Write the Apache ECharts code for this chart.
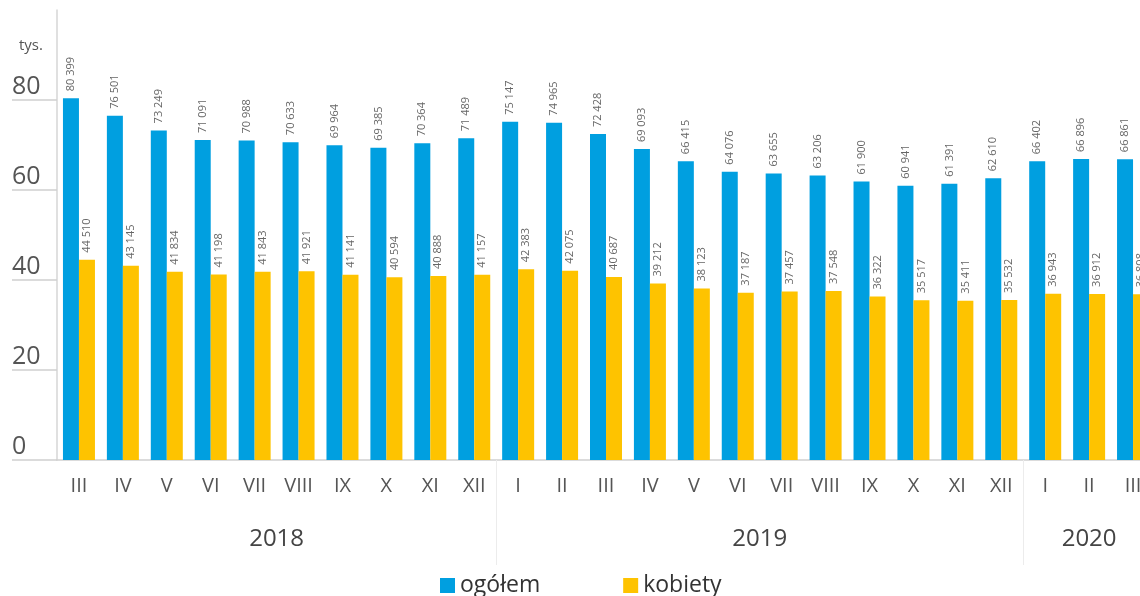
<!DOCTYPE html>
<html>
<head>
<meta charset="utf-8">
<script src="https://cdn.jsdelivr.net/npm/echarts@6/dist/echarts.min.js"></script>
<style>
  html, body { margin: 0; padding: 0; background: #fff; }
  #chart { width: 1140px; height: 596px; }
</style>
</head>
<body>
<div id="chart"></div>
<script>
var months = ['III', 'IV', 'V', 'VI', 'VII', 'VIII', 'IX', 'X', 'XI', 'XII',
    'I', 'II', 'III', 'IV', 'V', 'VI', 'VII', 'VIII', 'IX', 'X', 'XI', 'XII',
    'I', 'II', 'III'];
var years = ['2018', '2019', '2020'];
var monthsPerYear = [10, 12, 3];
var ogolem = [80399, 76501, 73249, 71091, 70988, 70633, 69964, 69385, 70364, 71489,
    75147, 74965, 72428, 69093, 66415, 64076, 63655, 63206, 61900, 60941, 61391, 62610,
    66402, 66896, 66861];
var kobiety = [44510, 43145, 41834, 41198, 41843, 41921, 41141, 40594, 40888, 41157,
    42383, 42075, 40687, 39212, 38123, 37187, 37457, 37548, 36322, 35517, 35411, 35532,
    36943, 36912, 36808];
var yTicks = [0, 20000, 40000, 60000, 80000];

// year group boundaries and centres on a 0..n scale
var yearBounds = [], yearCenters = [], pos = 0;
monthsPerYear.forEach(function (n, i) {
    yearCenters.push(pos + n / 2);
    pos += n;
    if (i < monthsPerYear.length - 1) yearBounds.push(pos);
});

function fmt(v) {
    return String(v).replace(/\B(?=(\d{3})+(?!\d))/g, ' ');
}

var font = '"Open Sans", sans-serif';
var chart = echarts.init(document.getElementById('chart'));

var barLabel = {
    show: true,
    position: 'top',
    rotate: 90,
    align: 'left',
    verticalAlign: 'middle',
    distance: 7,
    color: '#666',
    fontSize: 11,
    fontFamily: font,
    formatter: function (p) { return fmt(p.value); }
};

var option = {
    animation: false,
    title: {
        text: 'tys.',
        left: 14,
        top: 33,
        textStyle: { fontSize: 15, fontWeight: 'normal', color: '#555', fontFamily: font }
    },
    legend: {
        data: ['ogółem', 'kobiety'],
        left: 435,
        top: 569,
        icon: 'rect',
        itemWidth: 15,
        itemHeight: 15,
        itemGap: 83,
        textStyle: { fontSize: 23, color: '#333', fontFamily: font }
    },
    grid: {
        left: 57,
        top: 10,
        width: 1098,
        height: 450,
        outerBoundsMode: 'none',
        containLabel: false
    },
    xAxis: [{
        type: 'category',
        data: months,
        axisLine: { lineStyle: { color: '#cfcfcf', width: 1.5 } },
        axisTick: { show: false },
        axisLabel: { color: '#555', fontSize: 20, margin: 16, fontFamily: font }
    }, {
        type: 'value',
        min: 0,
        max: months.length,
        position: 'bottom',
        axisLine: { show: false },
        splitLine: { show: false },
        axisTick: {
            show: true,
            customValues: yearBounds,
            length: 105,
            lineStyle: { color: '#ececec', width: 1 }
        },
        axisLabel: {
            customValues: yearCenters,
            margin: 67,
            color: '#444',
            fontSize: 24,
            fontFamily: font,
            formatter: function (v) {
                var i = yearCenters.indexOf(v);
                return i >= 0 ? years[i] : '';
            }
        }
    }],
    yAxis: {
        type: 'value',
        min: 0,
        max: 100000,
        interval: 20000,
        axisLine: { show: true, lineStyle: { color: '#d6d6d6', width: 1.5 } },
        axisTick: {
            show: true,
            customValues: yTicks,
            length: 45,
            lineStyle: { color: '#cfcfcf', width: 1.5 }
        },
        splitLine: { show: false },
        axisLabel: {
            customValues: yTicks,
            align: 'left',
            verticalAlign: 'bottom',
            margin: 45,
            padding: [0, 0, 1, 0],
            color: '#555',
            fontSize: 25,
            fontFamily: font,
            formatter: function (v) { return v / 1000; }
        }
    },
    series: [{
        name: 'ogółem',
        type: 'bar',
        data: ogolem,
        barWidth: 16,
        barGap: '0%',
        itemStyle: { color: '#009fe0' },
        label: barLabel
    }, {
        name: 'kobiety',
        type: 'bar',
        data: kobiety,
        barWidth: 16,
        itemStyle: { color: '#fec300' },
        label: barLabel
    }]
};

chart.setOption(option);
</script>
</body>
</html>
